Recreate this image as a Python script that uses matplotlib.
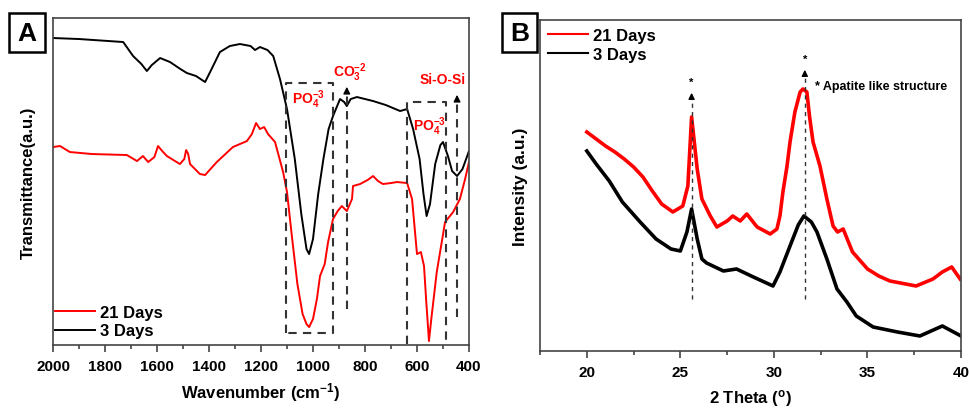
import matplotlib
matplotlib.use("Agg")
import matplotlib.pyplot as plt
from matplotlib.patches import Rectangle

plt.rcParams['font.family'] = ['Liberation Sans', 'DejaVu Sans']
plt.rcParams['font.weight'] = 'bold'
plt.rcParams['mathtext.fontset'] = 'custom'
plt.rcParams['mathtext.rm'] = 'Liberation Sans:bold'
plt.rcParams['mathtext.bf'] = 'Liberation Sans:bold'
plt.rcParams['mathtext.default'] = 'bf'

# ---- FTIR data (panel A), transmittance in a.u.
ftir_wn_3d = [2000, 1900, 1730, 1692, 1660, 1639, 1620, 1588, 1550, 1510, 1485, 1450,
              1415, 1390, 1358, 1320, 1281, 1240, 1223, 1204, 1175, 1153, 1127, 1100,
              1070, 1045, 1025, 1015, 1000, 980, 960, 940, 923, 896, 880, 870, 855,
              831, 800, 769, 720, 665, 638, 615, 590, 575, 563, 550, 530, 510, 500,
              481, 465, 446, 425, 400]
ftir_t_3d = [307, 306, 303, 289, 281, 274, 280, 287, 283, 276, 272, 269,
             263, 276, 293, 299, 301, 299, 295, 298, 295, 289, 266, 236,
             186, 131, 96, 91, 106, 151, 186, 216, 229, 246, 243, 239, 246,
             248, 246, 244, 240, 234, 236, 216, 186, 151, 129, 141, 181, 200, 203,
             189, 174, 169, 176, 194]

ftir_wn_21d = [2000, 1973, 1935, 1850, 1716, 1677, 1654, 1634, 1610, 1596, 1580, 1562,
               1512, 1495, 1488, 1480, 1473, 1435, 1415, 1370, 1308, 1254, 1235, 1219,
               1204, 1188, 1173, 1146, 1115, 1100, 1080, 1060, 1040, 1025, 1015, 1000,
               985, 973, 955, 942, 923, 905, 889, 870, 850, 846, 819, 790, 769, 750,
               731, 700, 677, 638, 619, 600, 585, 573, 565, 554, 545, 524, 492, 461,
               435, 415, 400]
ftir_t_21d = [198, 199, 193, 191, 190, 184, 189, 183, 188, 199, 194, 189,
              181, 186, 195, 191, 181, 171, 170, 183, 198, 204, 211, 222,
              216, 218, 211, 203, 173, 153, 106, 61, 31, 21, 18, 26,
              46, 69, 81, 103, 126, 134, 139, 134, 146, 159, 161, 165, 169, 164,
              161, 162, 163, 162, 146, 91, 93, 79, 46, 4, 26, 73, 123, 133,
              146, 166, 183]

# ---- XRD data (panel B), intensity in a.u.
xrd_2t_21d = [20.0, 20.5, 21.0, 21.5, 22.0, 22.5, 23.0, 23.5, 24.0, 24.6, 25.13, 25.4,
              25.6, 25.9, 26.15, 26.6, 26.95, 27.5, 27.8, 28.2, 28.55, 29.1, 29.8,
              30.16, 30.32, 30.48, 30.7, 30.86, 31.12, 31.4, 31.55, 31.76, 31.9, 32.09,
              32.46, 32.83, 33.16, 33.4, 33.7, 34.2, 35.0, 35.6, 36.2, 37.6, 38.5,
              39.0, 39.5, 39.95]
xrd_i_21d = [219, 212, 205, 199, 192, 184, 174, 160, 147, 139, 145, 165,
             234, 182, 152, 135, 124, 130, 135, 130, 137, 124, 117,
             122, 135, 159, 185, 209, 239, 259, 262, 259, 235, 209,
             185, 152, 125, 119, 122, 99, 82, 75, 70, 65, 72,
             79, 84, 72]

xrd_2t_3d = [20.0, 20.5, 21.2, 21.9, 22.85, 23.7, 24.5, 25.0, 25.35, 25.6, 25.9, 26.15,
             26.4, 27.3, 28.0, 28.9, 29.95, 30.32, 30.86, 31.3, 31.6, 32.0, 32.3,
             32.83, 33.37, 33.9, 34.4, 35.3, 36.6, 37.8, 39.0, 40.0]
xrd_i_3d = [200, 187, 170, 149, 129, 112, 102, 100, 119, 142, 112, 92,
            88, 80, 82, 74, 65, 79, 105, 126, 135, 129, 119,
            92, 62, 49, 35, 24, 19, 15, 25, 15]

series_labels = ['21 Days', '3 Days']
red = '#ff0000'
dash_col = '#333333'

fig = plt.figure(figsize=(9.69, 4.10), dpi=100)
axA = fig.add_axes([0.0547, 0.156, 0.4293, 0.7976])
axB = fig.add_axes([0.5573, 0.1415, 0.4345, 0.8073])

# ---------------- panel A
axA.plot(ftir_wn_21d, ftir_t_21d, color=red, lw=1.4, label=series_labels[0])
axA.plot(ftir_wn_3d, ftir_t_3d, color='black', lw=1.4, label=series_labels[1])
axA.set_xlim(2000, 400)
axA.set_ylim(0, 327)
axA.set_xticks(range(2000, 399, -200))
axA.set_xticks(range(1900, 400, -200), minor=True)
axA.set_yticks([])
axA.set_xlabel('Wavenumber (cm$^{-1}$)', fontsize=12, fontweight='bold', labelpad=5)
axA.set_ylabel('Transmittance(a.u.)', fontsize=12, fontweight='bold', labelpad=12)

dk = dict(color=dash_col, ls=(0, (4, 3)), lw=1.5)
# dashed boxes
axA.plot([1104, 1104, 923, 923, 1104], [12, 262, 262, 12, 12], **dk)
axA.plot([638, 638, 488, 488], [1, 243, 243, 1], **dk)
# arrows
for xv, y0, y1 in [(870, 36, 252), (446, 28, 244)]:
    axA.plot([xv, xv], [y0, y1], **dk)
    axA.annotate('', xy=(xv, y1 + 9), xytext=(xv, y1 - 2),
                 arrowprops=dict(arrowstyle='-|>', color='black', lw=1,
                                 mutation_scale=10))
axA.text(1019, 246, 'PO$_4^{-3}$', color=red, fontsize=10, ha='center', va='center')
axA.text(858, 273, 'CO$_3^{-2}$', color=red, fontsize=10, ha='center', va='center')
axA.text(550, 219, 'PO$_4^{-3}$', color=red, fontsize=10, ha='center', va='center')
axA.text(500, 266, 'Si-O-Si', color=red, fontsize=10, ha='center', va='center')

axA.legend(loc='lower left', bbox_to_anchor=(0.005, 0.02), frameon=False,
           borderpad=0, borderaxespad=0, handlelength=2.4, handletextpad=0.3,
           labelspacing=0.2, prop=dict(size=12, weight='bold'))

# ---------------- panel B
axB.plot(xrd_2t_21d, xrd_i_21d, color=red, lw=2.6, label=series_labels[0])
axB.plot(xrd_2t_3d, xrd_i_3d, color='black', lw=2.6, label=series_labels[1])
axB.set_xlim(17.5, 40)
axB.set_ylim(0, 331)
axB.set_xticks([20, 25, 30, 35, 40])
axB.set_xticks([17.5, 22.5, 27.5, 32.5, 37.5], minor=True)
axB.set_yticks([])
axB.set_xlabel('2 Theta ($^{o}$)', fontsize=12, fontweight='bold', labelpad=6)
axB.set_ylabel('Intensity (a.u.)', fontsize=12.5, fontweight='bold', labelpad=9)

dk2 = dict(color=dash_col, ls=(0, (3, 3)), lw=1.0)
for xv, y1 in [(25.6, 252), (31.65, 275)]:
    axB.plot([xv, xv], [52, y1], **dk2)
    axB.annotate('', xy=(xv, y1 + 9), xytext=(xv, y1 - 2),
                 arrowprops=dict(arrowstyle='-|>', color='black', lw=1,
                                 mutation_scale=9))
    axB.text(xv, y1 + 17, '*', fontsize=8, ha='center', va='center')
axB.text(32.2, 265, '* Apatite like structure', fontsize=9, ha='left', va='center')

legB = axB.legend(loc='upper left', bbox_to_anchor=(0.02, 0.975), frameon=False,
                  borderpad=0, borderaxespad=0, handlelength=2.4, handletextpad=0.3,
                  labelspacing=0.2, prop=dict(size=12, weight='bold'))
for ln in legB.get_lines():
    ln.set_linewidth(1.5)

for ax in (axA, axB):
    for sp in ax.spines.values():
        sp.set_color('#444444')
        sp.set_linewidth(1.2)
    ax.tick_params(axis='x', which='both', direction='out', colors='#444444',
                   labelcolor='black', labelsize=11, width=1.2)
    ax.tick_params(axis='x', which='major', length=5, pad=5)
    ax.tick_params(axis='x', which='minor', length=3)
    for lab in ax.get_xticklabels():
        lab.set_fontweight('bold')

# panel letters
for (x0, w), letter in [((0.0093, 0.0372), 'A'), ((0.518, 0.0361), 'B')]:
    fig.add_artist(Rectangle((x0, 0.8707), w, 0.0951, transform=fig.transFigure,
                             fill=False, ec='black', lw=1.8))
    fig.text(x0 + w / 2, 0.8707 + 0.0951 / 2, letter, fontsize=19,
             fontweight='bold', ha='center', va='center')

fig.savefig('out.png', dpi=100)
